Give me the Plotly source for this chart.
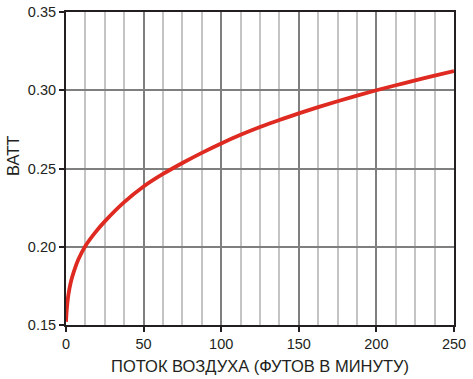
import plotly.graph_objects as go

airflow = [0, 0.5, 1.5, 3, 5, 8, 12.5, 18.75, 25, 37.5, 50, 62.5, 75, 87.5, 100, 112.5, 125,
           137.5, 150, 162.5, 175, 187.5, 200, 212.5, 225, 237.5, 250]
watts = [0.152, 0.160, 0.169, 0.177, 0.184, 0.192, 0.2005, 0.209, 0.2162, 0.2285, 0.2385,
         0.2465, 0.2535, 0.2600, 0.2660, 0.2715, 0.2765, 0.2810, 0.2852, 0.2892, 0.2930,
         0.2966, 0.3000, 0.3032, 0.3063, 0.3093, 0.3122]

x_ticks = [0, 50, 100, 150, 200, 250]
y_ticks = [0.15, 0.20, 0.25, 0.30, 0.35]
y_labels = ["0.15", "0.20", "0.25", "0.30", "0.35"]

fig = go.Figure()
fig.add_trace(go.Scatter(x=airflow, y=watts, mode="lines",
                         line=dict(color="#de2a20", width=3.8, shape="spline", smoothing=1.0),
                         hoverinfo="skip"))

tick_font = dict(family="Liberation Sans, Arial, sans-serif", size=14.5, color="#231f20")
title_font = dict(family="Liberation Sans, Arial, sans-serif", size=16.5, color="#231f20")

fig.update_layout(
    width=473, height=379,
    margin=dict(l=66, r=19, t=12, b=54),
    paper_bgcolor="white", plot_bgcolor="white",
    showlegend=False,
    font=tick_font,
)
fig.update_xaxes(
    range=[0, 250], tickvals=x_ticks, ticktext=[str(v) for v in x_ticks],
    showline=True, linecolor="#231f20", linewidth=2, mirror=True,
    ticks="outside", ticklen=5, tickwidth=1.5, tickcolor="#231f20",
    showgrid=True, gridcolor="#7f7f7f", gridwidth=1.5,
    minor=dict(dtick=12.5, tick0=0, showgrid=True, gridcolor="#c4c4c4", gridwidth=1.5, ticks=""),
    zeroline=False, automargin=False,
    title=dict(text="ПОТОК ВОЗДУХА (ФУТОВ В МИНУТУ)", font=title_font, standoff=9),
    tickfont=tick_font,
)
fig.update_yaxes(
    range=[0.15, 0.35], tickvals=y_ticks, ticktext=y_labels,
    showline=True, linecolor="#231f20", linewidth=2, mirror=True,
    ticks="outside", ticklen=5, tickwidth=1.5, tickcolor="#231f20",
    showgrid=True, gridcolor="#7f7f7f", gridwidth=1.5,
    zeroline=False, automargin=False,
    tickfont=tick_font,
)
fig.add_annotation(text="ВАТТ", xref="paper", yref="paper", x=-0.1366, y=0.54,
                   xanchor="center", yanchor="middle", textangle=-90,
                   showarrow=False, font=title_font)

fig.write_html("out.html", config={"displayModeBar": False},
               post_script="document.body.style.margin='0';document.body.style.overflow='hidden';")
